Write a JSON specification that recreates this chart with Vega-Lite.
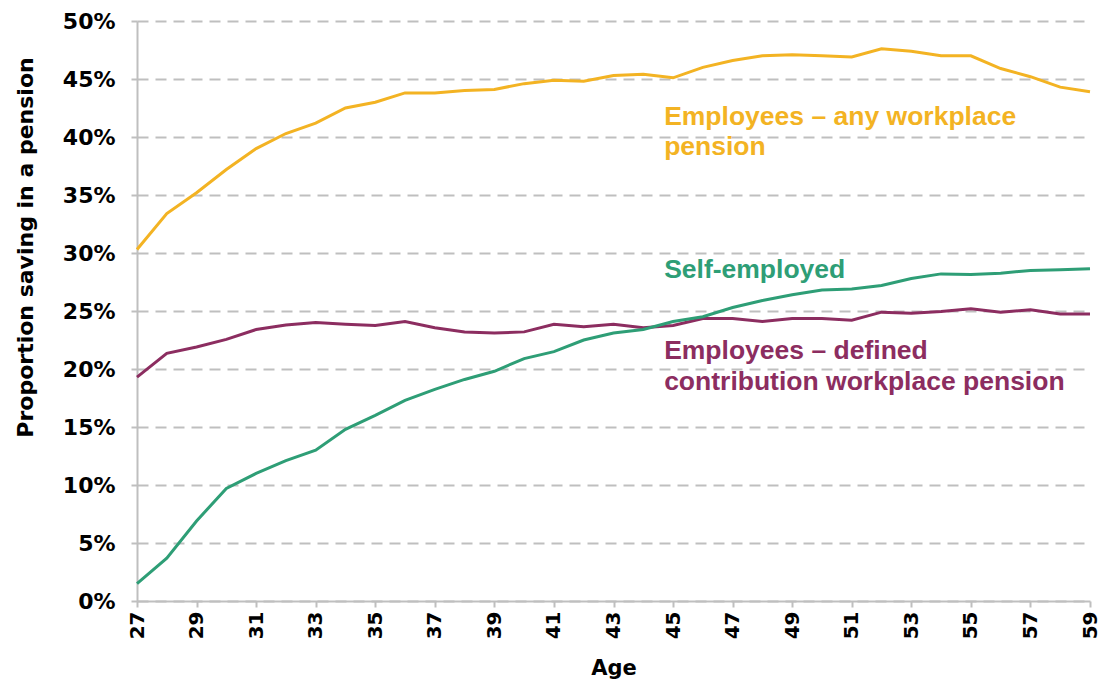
{
  "$schema": "https://vega.github.io/schema/vega-lite/v6.json",
  "width": 953,
  "height": 580,
  "autosize": {"type": "none"},
  "padding": {"left": 137, "top": 21, "right": 13, "bottom": 85},
  "background": "white",
  "config": {"view": {"stroke": null}, "font": "Liberation Sans"},
  "datasets": {
    "lines": [
      {"age": 27, "series": "any", "pct": 30.3}, {"age": 28, "series": "any", "pct": 33.4}, {"age": 29, "series": "any", "pct": 35.2}, {"age": 30, "series": "any", "pct": 37.2}, {"age": 31, "series": "any", "pct": 39.0}, {"age": 32, "series": "any", "pct": 40.3}, {"age": 33, "series": "any", "pct": 41.2}, {"age": 34, "series": "any", "pct": 42.5}, {"age": 35, "series": "any", "pct": 43.0}, {"age": 36, "series": "any", "pct": 43.8}, {"age": 37, "series": "any", "pct": 43.8}, {"age": 38, "series": "any", "pct": 44.0}, {"age": 39, "series": "any", "pct": 44.1}, {"age": 40, "series": "any", "pct": 44.6}, {"age": 41, "series": "any", "pct": 44.9}, {"age": 42, "series": "any", "pct": 44.8}, {"age": 43, "series": "any", "pct": 45.3}, {"age": 44, "series": "any", "pct": 45.4}, {"age": 45, "series": "any", "pct": 45.1}, {"age": 46, "series": "any", "pct": 46.0}, {"age": 47, "series": "any", "pct": 46.6}, {"age": 48, "series": "any", "pct": 47.0}, {"age": 49, "series": "any", "pct": 47.1}, {"age": 50, "series": "any", "pct": 47.0}, {"age": 51, "series": "any", "pct": 46.9}, {"age": 52, "series": "any", "pct": 47.6}, {"age": 53, "series": "any", "pct": 47.4}, {"age": 54, "series": "any", "pct": 47.0}, {"age": 55, "series": "any", "pct": 47.0}, {"age": 56, "series": "any", "pct": 45.9}, {"age": 57, "series": "any", "pct": 45.2}, {"age": 58, "series": "any", "pct": 44.3}, {"age": 59, "series": "any", "pct": 43.9},
      {"age": 27, "series": "dc", "pct": 19.3}, {"age": 28, "series": "dc", "pct": 21.35}, {"age": 29, "series": "dc", "pct": 21.9}, {"age": 30, "series": "dc", "pct": 22.55}, {"age": 31, "series": "dc", "pct": 23.4}, {"age": 32, "series": "dc", "pct": 23.8}, {"age": 33, "series": "dc", "pct": 24.0}, {"age": 34, "series": "dc", "pct": 23.85}, {"age": 35, "series": "dc", "pct": 23.75}, {"age": 36, "series": "dc", "pct": 24.1}, {"age": 37, "series": "dc", "pct": 23.55}, {"age": 38, "series": "dc", "pct": 23.2}, {"age": 39, "series": "dc", "pct": 23.1}, {"age": 40, "series": "dc", "pct": 23.2}, {"age": 41, "series": "dc", "pct": 23.85}, {"age": 42, "series": "dc", "pct": 23.65}, {"age": 43, "series": "dc", "pct": 23.85}, {"age": 44, "series": "dc", "pct": 23.55}, {"age": 45, "series": "dc", "pct": 23.75}, {"age": 46, "series": "dc", "pct": 24.35}, {"age": 47, "series": "dc", "pct": 24.35}, {"age": 48, "series": "dc", "pct": 24.1}, {"age": 49, "series": "dc", "pct": 24.35}, {"age": 50, "series": "dc", "pct": 24.35}, {"age": 51, "series": "dc", "pct": 24.2}, {"age": 52, "series": "dc", "pct": 24.9}, {"age": 53, "series": "dc", "pct": 24.8}, {"age": 54, "series": "dc", "pct": 24.95}, {"age": 55, "series": "dc", "pct": 25.2}, {"age": 56, "series": "dc", "pct": 24.9}, {"age": 57, "series": "dc", "pct": 25.1}, {"age": 58, "series": "dc", "pct": 24.75}, {"age": 59, "series": "dc", "pct": 24.75},
      {"age": 27, "series": "self", "pct": 1.5}, {"age": 28, "series": "self", "pct": 3.7}, {"age": 29, "series": "self", "pct": 6.9}, {"age": 30, "series": "self", "pct": 9.7}, {"age": 31, "series": "self", "pct": 11.0}, {"age": 32, "series": "self", "pct": 12.1}, {"age": 33, "series": "self", "pct": 13.0}, {"age": 34, "series": "self", "pct": 14.8}, {"age": 35, "series": "self", "pct": 16.0}, {"age": 36, "series": "self", "pct": 17.3}, {"age": 37, "series": "self", "pct": 18.25}, {"age": 38, "series": "self", "pct": 19.1}, {"age": 39, "series": "self", "pct": 19.8}, {"age": 40, "series": "self", "pct": 20.9}, {"age": 41, "series": "self", "pct": 21.5}, {"age": 42, "series": "self", "pct": 22.5}, {"age": 43, "series": "self", "pct": 23.1}, {"age": 44, "series": "self", "pct": 23.4}, {"age": 45, "series": "self", "pct": 24.1}, {"age": 46, "series": "self", "pct": 24.5}, {"age": 47, "series": "self", "pct": 25.3}, {"age": 48, "series": "self", "pct": 25.9}, {"age": 49, "series": "self", "pct": 26.4}, {"age": 50, "series": "self", "pct": 26.8}, {"age": 51, "series": "self", "pct": 26.9}, {"age": 52, "series": "self", "pct": 27.2}, {"age": 53, "series": "self", "pct": 27.8}, {"age": 54, "series": "self", "pct": 28.2}, {"age": 55, "series": "self", "pct": 28.15}, {"age": 56, "series": "self", "pct": 28.25}, {"age": 57, "series": "self", "pct": 28.5}, {"age": 58, "series": "self", "pct": 28.55}, {"age": 59, "series": "self", "pct": 28.65}
    ],
    "labels": [
      {"age": 44.7, "pct": 41.03, "series": "any", "label": "Employees – any workplace"},
      {"age": 44.7, "pct": 38.45, "series": "any", "label": "pension"},
      {"age": 44.7, "pct": 27.82, "series": "self", "label": "Self-employed"},
      {"age": 44.7, "pct": 20.86, "series": "dc", "label": "Employees – defined"},
      {"age": 44.7, "pct": 18.19, "series": "dc", "label": "contribution workplace pension"}
    ]
  },
  "layer": [
    {
      "data": {"name": "lines"},
      "mark": {"type": "line", "strokeWidth": 3},
      "encoding": {
        "x": {
          "field": "age", "type": "quantitative",
          "scale": {"domain": [27, 59], "nice": false, "zero": false},
          "axis": {
            "values": [27,28,29,30,31,32,33,34,35,36,37,38,39,40,41,42,43,44,45,46,47,48,49,50,51,52,53,54,55,56,57,58,59],
            "labelExpr": "datum.value % 2 == 1 ? datum.label : ''",
            "labelAngle": -90,
            "labelFont": "DejaVu Sans", "labelFontWeight": "bold", "labelFontSize": 20, "labelColor": "#000000",
            "labelPadding": 4, "labelOverlap": false, "labelFlush": false,
            "tickColor": "#BFBFBF", "tickSize": 6, "tickWidth": 2,
            "domainColor": "#BFBFBF", "domainWidth": 2,
            "grid": false,
            "title": "Age", "titleFont": "DejaVu Sans", "titleFontSize": 21, "titleFontWeight": "bold", "titleColor": "#000000",
            "titleY": 67, "titleBaseline": "middle"
          }
        },
        "y": {
          "field": "pct", "type": "quantitative",
          "scale": {"domain": [0, 50], "nice": false},
          "axis": {
            "values": [0,5,10,15,20,25,30,35,40,45,50],
            "labelExpr": "datum.value + '%'",
            "labelFont": "DejaVu Sans", "labelFontWeight": "bold", "labelFontSize": 22, "labelColor": "#000000",
            "labelPadding": 16,
            "tickColor": "#BFBFBF", "tickSize": 6, "tickWidth": 2,
            "domainColor": "#BFBFBF", "domainWidth": 2,
            "grid": true, "gridColor": "#BFBFBF", "gridDash": [11, 7], "gridWidth": 2,
            "title": "Proportion saving in a pension", "titleFont": "DejaVu Sans", "titleFontSize": 22, "titleFontWeight": "bold", "titleColor": "#000000",
            "titleX": -112, "titleY": 226, "titleAngle": -90, "titleAlign": "center", "titleBaseline": "middle"
          }
        },
        "color": {
          "field": "series", "type": "nominal",
          "scale": {"domain": ["any", "dc", "self"], "range": ["#F3B323", "#8C2D60", "#2E9E76"]},
          "legend": null
        }
      }
    },
    {
      "data": {"name": "labels"},
      "mark": {"type": "text", "align": "left", "baseline": "alphabetic", "font": "Liberation Sans", "fontSize": 26.5, "fontWeight": "bold"},
      "encoding": {
        "x": {"field": "age", "type": "quantitative"},
        "y": {"field": "pct", "type": "quantitative"},
        "text": {"field": "label"},
        "color": {"field": "series", "type": "nominal", "legend": null}
      }
    }
  ]
}
